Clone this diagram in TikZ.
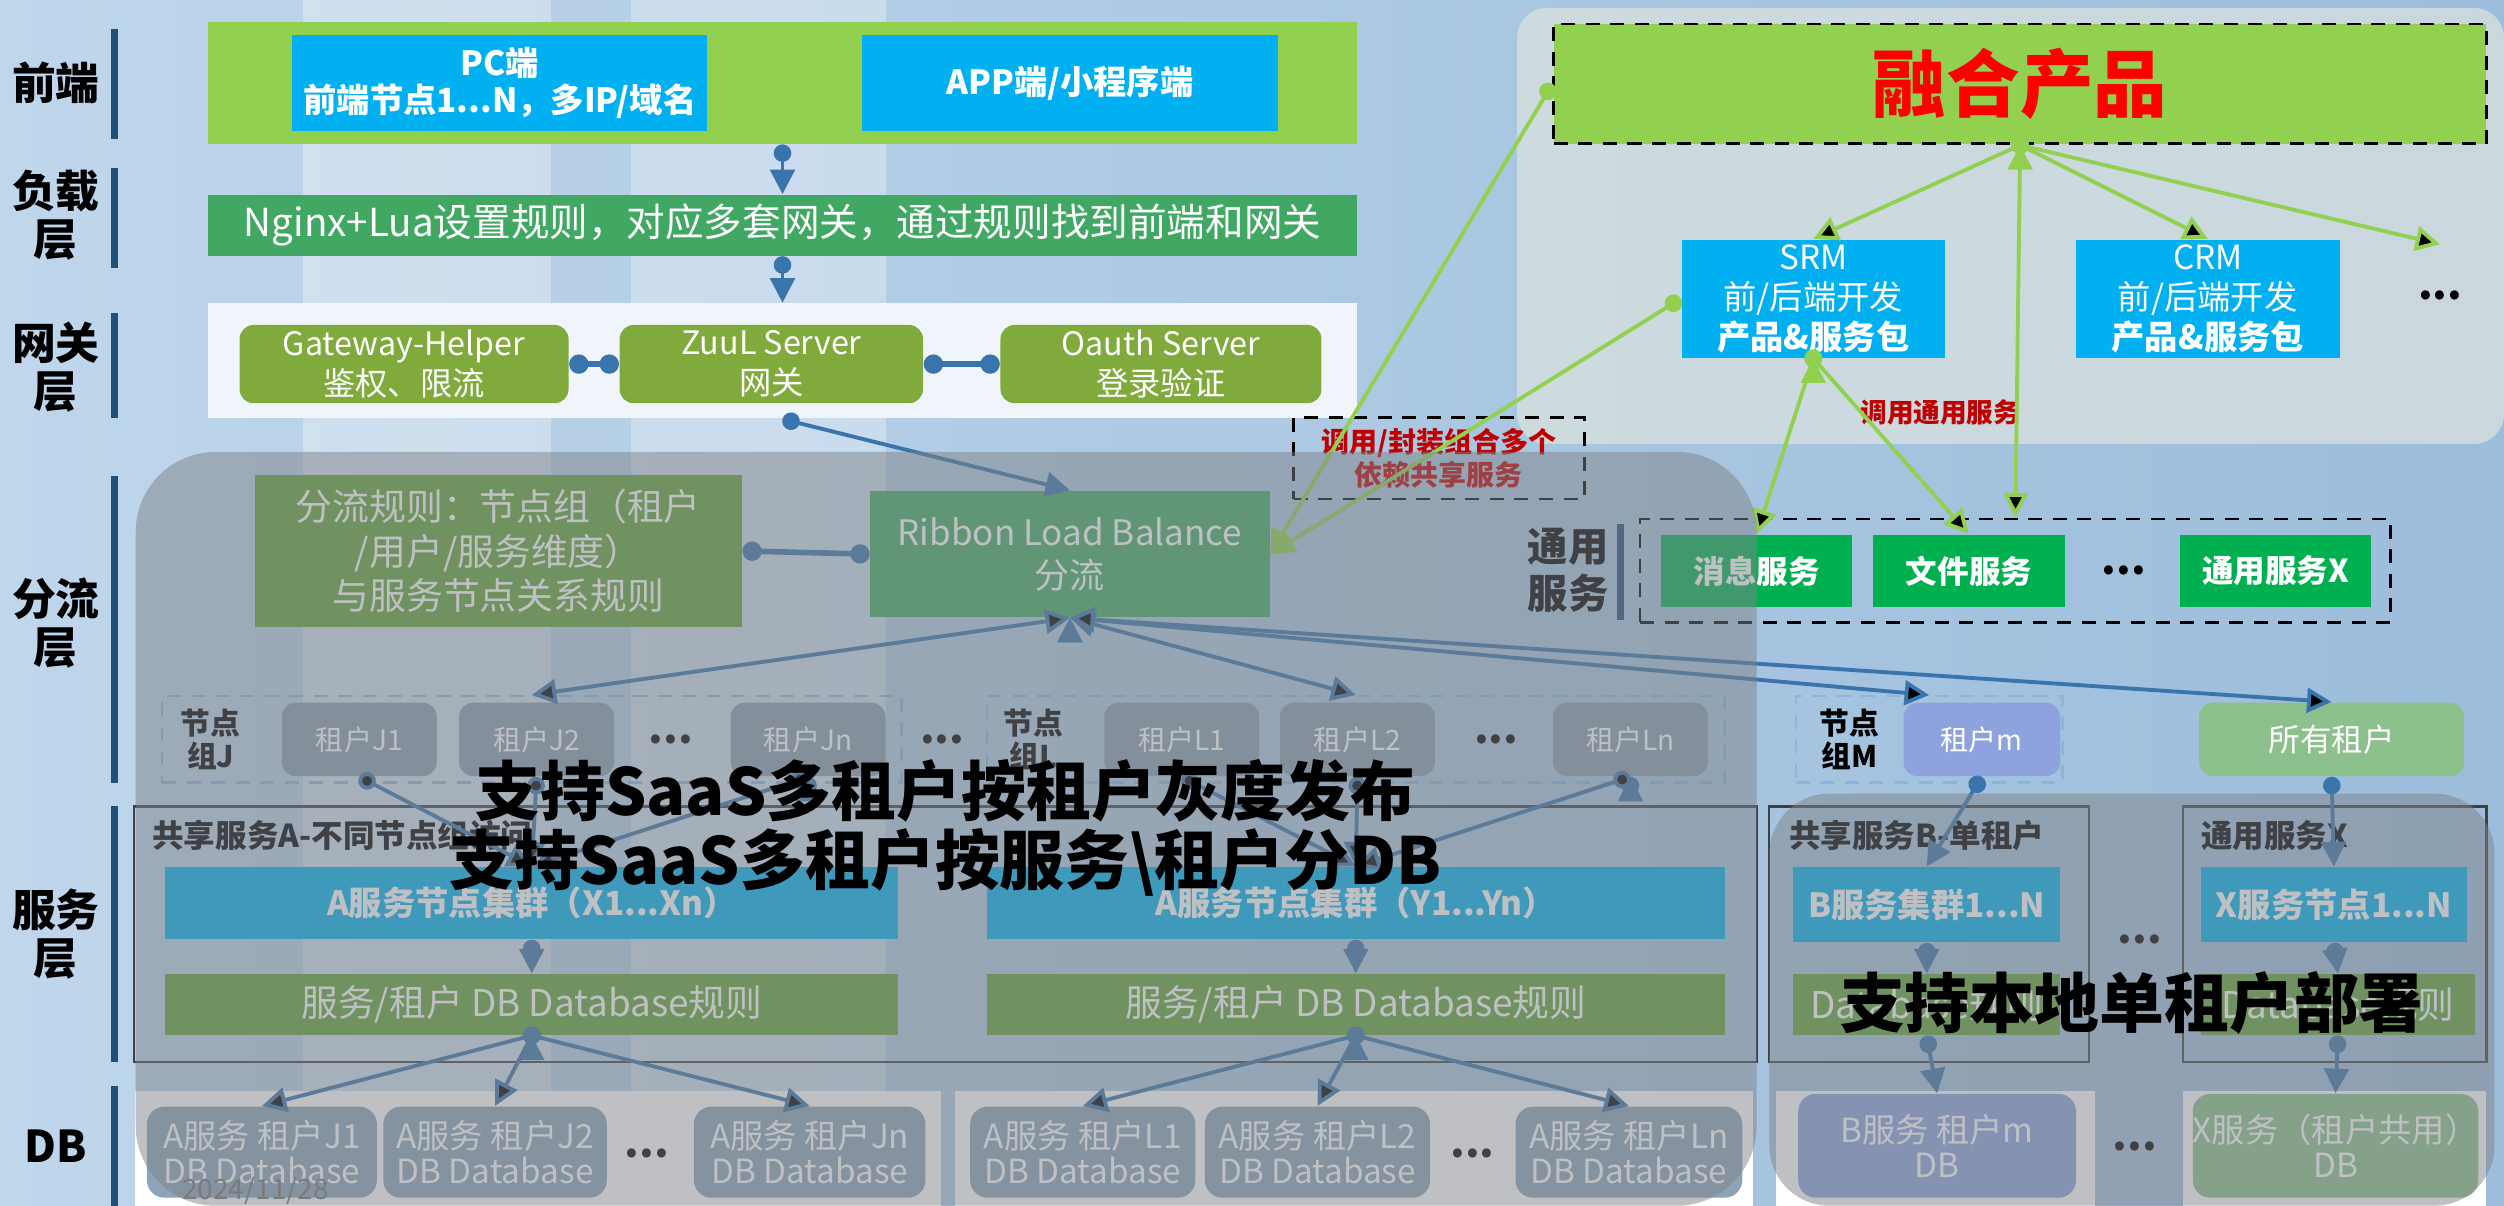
\documentclass[tikz,border=0pt]{standalone}
\usepackage{fontspec}
\setmainfont{Noto Sans CJK SC}
\usetikzlibrary{arrows.meta,positioning}

\newlength\pxu
\setlength\pxu{0.016cm}

\definecolor{bgleft}{HTML}{BFD6EB}
\definecolor{bgmid}{HTML}{DDE8F2}
\definecolor{bgright}{HTML}{9CBDDB}
\definecolor{panelgray}{HTML}{D6DFDE}
\definecolor{lightgreen}{HTML}{92D050}
\definecolor{skyblue}{HTML}{00B0F0}
\definecolor{nginxgreen}{HTML}{41A864}
\definecolor{gatebg}{HTML}{F0F5FB}
\definecolor{olivegreen}{HTML}{80AB3C}
\definecolor{linkblue}{HTML}{3A74AC}
\definecolor{barblue}{HTML}{1F4E79}
\definecolor{rulegreen}{HTML}{62A33A}
\definecolor{tenantgray}{HTML}{8A9DB2}
\definecolor{dbgray}{HTML}{8CA3B8}
\definecolor{svcgreen}{HTML}{00B050}
\definecolor{shadegray}{HTML}{7F8388}
\definecolor{darkred}{HTML}{C00000}
\definecolor{groupdash}{HTML}{8FB4D9}
\definecolor{tenantm}{HTML}{8EA3DE}
\definecolor{alltenant}{HTML}{8CC08C}

\begin{document}
\begin{tikzpicture}[x=0.016cm, y=-0.016cm]
		\tikzset{
  layer/.style={align=center, inner sep=0, font=\fontsize{12.5}{13.7}\selectfont\bfseries},
  layerbar/.style={draw=barblue, line width=2pt},
  dims/.style 2 args={minimum width=#1\pxu, minimum height=#2\pxu},
  block/.style={rectangle, inner sep=0, align=center, text=white},
  gwbox/.style={block, fill=olivegreen, rounded corners=4pt, dims={#1}{49},
         font=\fontsize{9.2}{11.4}\selectfont},
  group/.style={draw=groupdash, dash pattern=on 4pt off 3pt, line width=.7pt,
         inner sep=0, dims={#1}{54}},
  grouplbl/.style={align=center, inner sep=0, font=\fontsize{8.5}{9.6}\selectfont\bfseries},
  tenant/.style={block, fill=tenantgray, rounded corners=4pt, dims={97}{46},
         font=\fontsize{8}{9}\selectfont},
  dotsep/.style={inner sep=0, font=\fontsize{12}{12}\selectfont\bfseries},
  outline/.style={draw=black!75, line width=.6pt, inner sep=0},
  svclbl/.style={inner sep=0, anchor=west, font=\fontsize{9}{10}\selectfont\bfseries},
  cluster/.style={block, fill=skyblue, dims={#1}{45}, font=\fontsize{9.5}{11}\selectfont\bfseries},
  rulebox/.style={block, fill=rulegreen, dims={#1}{38}, font=\fontsize{10.5}{12}\selectfont},
  dbpanel/.style={fill=white, inner sep=0, dims={#1}{72}},
  dbbox/.style={block, fill=dbgray, rounded corners=5pt, dims={#1}{57},
         font=\fontsize{9.5}{10}\selectfont},
  product/.style={block, fill=skyblue, dims={165}{74}, font=\fontsize{9.5}{11.4}\selectfont},
  common/.style={block, fill=svcgreen, dims={120}{45}, font=\fontsize{9}{10}\selectfont\bfseries},
  blackdash/.style={draw=black, dash pattern=on 4pt off 3pt, line width=.8pt, inner sep=0},
  bigtext/.style={inner sep=0, font=\fontsize{18.5}{20}\selectfont\bfseries},
  dotlink/.style={draw=linkblue, line width=1.1pt,
         {Circle[length=5pt]}-{Triangle[length=7pt,width=7pt]}},
  fanlink/.style={draw=linkblue, line width=1.1pt, -{Triangle[length=7pt,width=7pt]}},
  dotdot/.style={draw=linkblue, line width=1.6pt,
         {Circle[length=5.5pt]}-{Circle[length=5.5pt]}},
  bilink/.style={draw=linkblue, line width=1.1pt,
         {Triangle[length=7pt,width=7pt]}-{Triangle[length=7pt,width=7pt]}},
  greenlink/.style={draw=lightgreen, line width=1.1pt,
         {Circle[length=5pt]}-{Triangle[length=7pt,width=7pt]}},
  greenfan/.style={draw=lightgreen, line width=1.1pt, -{Triangle[length=7pt,width=7pt]}},
}
\useasboundingbox (0,0) rectangle (1568,755);

    % background
    \shade[left color=bgleft, middle color=bgmid, right color=bgright] (0,0) rectangle (1568,755);
    \fill[white, opacity=.3] (190,0) rectangle (345,755);
    \fill[white, opacity=.3] (395,0) rectangle (555,755);
    \fill[panelgray, opacity=.8, rounded corners=.3cm] (950,5) rectangle (1568,278);

    % layer labels
    \node[layer] (lfront) at (35,52) {前端};
    \node[layer] (lload) at (35,135) {负载\\层};
    \node[layer] (lgate) at (35,230) {网关\\层};
    \node[layer] (lshunt) at (35,390) {分流\\层};
    \node[layer] (lsvc) at (35,585) {服务\\层};
    \node[layer] (ldb) at (35,718) {DB};
    \draw[layerbar] (72,18) -- (72,87);
    \draw[layerbar] (72,105) -- (72,168);
    \draw[layerbar] (72,196) -- (72,262);
    \draw[layerbar] (72,298) -- (72,490);
    \draw[layerbar] (72,505) -- (72,665);
    \draw[layerbar] (72,680) -- (72,755);

    % front end, load, gateway
    \node[block, fill=lightgreen, dims={720}{76}] (front) at (490,52) {};
    \node[block, fill=skyblue, dims={260}{60},
      font=\fontsize{9.5}{10.5}\selectfont\bfseries] (pc) at (313,52)
      {PC端\\前端节点1...N，多IP/域名};
    \node[block, fill=skyblue, dims={260}{60},
      font=\fontsize{9.5}{10.5}\selectfont\bfseries] (app) at (670,52)
      {APP端/小程序端};
    \node[block, fill=nginxgreen, dims={720}{38},
      font=\fontsize{11}{13}\selectfont] (nginx) at (490,141)
      {Nginx+Lua设置规则，对应多套网关，通过规则找到前端和网关};
    \node[block, fill=gatebg, dims={720}{72}] (gwband) at (490,226) {};
    \node[gwbox=206] (helper) at (253,228) {Gateway-Helper\\鉴权、限流};
    \node[gwbox=190] (zuul) at (483,228) {ZuuL Server\\网关};
    \node[gwbox=201] (oauth) at (727,228) {Oauth Server\\登录验证};

    % shunt layer
    \node[block, fill=rulegreen, dims={305}{95},
      font=\fontsize{10.5}{12.7}\selectfont] (shuntrule) at (312,345)
      {分流规则：节点组（租户\\/用户/服务维度）\\与服务节点关系规则};
    \node[block, fill=nginxgreen, dims={250}{79},
      font=\fontsize{10}{12.3}\selectfont] (ribbon) at (670,347)
      {Ribbon Load Balance\\分流};
    \node[blackdash, dims={182}{51}, align=center, text=darkred,
      font=\fontsize{8}{9.6}\selectfont\bfseries] (callout) at (901,287)
      {调用/封装组合多个\\依赖共享服务};

    % node groups
    \node[group=463] (grpJ) at (333,463) {};
    \node[grouplbl] (grpJlbl) at (132,463) {节点\\组J};
    \node[tenant] (tJ1) at (225,463) {租户J1};
    \node[tenant, right of=tJ1, node distance=111\pxu, anchor=center] (tJ2) {租户J2};
    \node[dotsep, right of=tJ2, node distance=84\pxu, anchor=center] (tJdots) {...};
    \node[tenant, right of=tJdots, node distance=86\pxu, anchor=center] (tJn) {租户Jn};
    \node[dotsep] (grpdots) at (590,463) {...};

    \node[group=462] (grpL) at (849,463) {};
    \node[grouplbl] (grpLlbl) at (647,463) {节点\\组L};
    \node[tenant] (tL1) at (740,463) {租户L1};
    \node[tenant, right of=tL1, node distance=110\pxu, anchor=center] (tL2) {租户L2};
    \node[dotsep, right of=tL2, node distance=87\pxu, anchor=center] (tLdots) {...};
    \node[tenant, right of=tLdots, node distance=84\pxu, anchor=center] (tLn) {租户Ln};

    \node[group=167] (grpM) at (1208,463) {};
    \node[grouplbl] (grpMlbl) at (1158,463) {节点\\组M};
    \node[tenant, fill=tenantm, dims={98}{46}] (tm) at (1241,463) {租户m};
    \node[tenant, fill=alltenant, dims={166}{46},
      font=\fontsize{9}{10}\selectfont] (alltn) at (1460,463) {所有租户};

    % shared service A
    \node[outline, dims={1016}{160}] (svcA) at (592,585) {};
    \node[svclbl] (svcAlbl) at (95,523) {共享服务A-不同节点组访问};
    \node[cluster=459] (clX) at (333,565.5) {A服务节点集群（X1...Xn）};
    \node[cluster=462] (clY) at (849,565.5) {A服务节点集群（Y1...Yn）};
    \node[rulebox=459] (ruleX) at (333,629) {服务/租户 DB Database规则};
    \node[rulebox=462] (ruleY) at (849,629) {服务/租户 DB Database规则};

    % DB row for A
    \node[dbpanel=505] (panelJ) at (337,719) {};
    \node[dbpanel=500] (panelL) at (848,719) {};
    \node[dbbox=144] (dbJ1) at (164,721.5) {A服务 租户J1\\DB Database};
    \node[dbbox=140] (dbJ2) at (310,721.5) {A服务 租户J2\\DB Database};
    \node[dotsep] (dbJdots) at (405,722) {...};
    \node[dbbox=145] (dbJn) at (507,721.5) {A服务 租户Jn\\DB Database};
    \node[dbbox=141] (dbL1) at (678,721.5) {A服务 租户L1\\DB Database};
    \node[dbbox=141] (dbL2) at (825,721.5) {A服务 租户L2\\DB Database};
    \node[dotsep] (dbLdots) at (922,722) {...};
    \node[dbbox=142] (dbLn) at (1020,721.5) {A服务 租户Ln\\DB Database};
    \node[inner sep=0, text=black!55, font=\fontsize{8}{9}\selectfont] (date) at (160,746) {2024/11/28};

    % shared service B and common service X
    \node[outline, dims={200}{160}] (svcB) at (1208,585) {};
    \node[svclbl] (svcBlbl) at (1120,523) {共享服务B-单租户};
    \node[cluster=167, dims={167}{47}] (clB) at (1206.5,566.5) {B服务集群1...N};
    \node[rulebox=167] (ruleB) at (1206.5,629) {Database规则};
    \node[dbpanel=200] (panelB) at (1212,719) {};
    \node[dbbox=174, fill=tenantm, dims={174}{65}] (dbB) at (1213,717.5) {B服务 租户m\\DB};
    \node[dotsep] (svcdots) at (1340,588) {...};
    \node[dotsep] (dbdots) at (1337,718) {...};

    \node[outline, dims={190}{160}] (svcX) at (1462,585) {};
    \node[svclbl] (svcXlbl) at (1378,523) {通用服务X};
    \node[cluster=167, dims={167}{47}] (clX2) at (1461.5,566.5) {X服务节点1...N};
    \node[rulebox=172] (ruleX2) at (1464,629) {Database规则};
    \node[dbpanel=190] (panelX) at (1462,719) {};
    \node[dbbox=169, fill=alltenant, dims={169}{65}] (dbX) at (1462.5,717.5) {X服务（租户共用）\\DB};

    % fused products
    \node[blackdash, fill=lightgreen, dims={584}{75}, text=red,
      font=\fontsize{21}{24}\selectfont\bfseries] (fusion) at (1265,52.5) {融合产品};
    \node[product] (srm) at (1135.5,187) {SRM\\前/后端开发\\\textbf{产品\&服务包}};
    \node[product] (crm) at (1382.5,187) {CRM\\前/后端开发\\\textbf{产品\&服务包}};
    \node[dotsep] (crmdots) at (1528,185) {...};
    \coordinate (moreend) at (1528,153);
    \node[inner sep=0, text=darkred, font=\fontsize{7.6}{9}\selectfont\bfseries] (calllbl) at (1215,258) {调用通用服务};

    % common services
    \node[layer, font=\fontsize{11.5}{13.2}\selectfont\bfseries] (genlbl) at (982,357) {通用\\服务};
    \draw[layerbar] (1015,328) -- (1015,388);
    \node[blackdash, dims={470}{65}] (gen) at (1262,357.5) {};
    \node[common] (msg) at (1100,357.5) {消息服务};
    \node[common] (file) at (1233,357.5) {文件服务};
    \node[dotsep] (gendots) at (1330,357) {...};
    \node[common] (genx) at (1425,357.5) {通用服务X};

    % connectors
    \draw[dotlink] (front.south) -- (nginx.north);
    \draw[dotlink] (nginx.south) -- (gwband.north);
    \draw[dotdot] (helper.east) -- (zuul.west);
    \draw[dotdot] (zuul.east) -- (oauth.west);
    \draw[dotlink] (gwband.south) -- (ribbon.north);
    \draw[dotdot] (shuntrule.east) -- (ribbon.west);

    \path[bilink] (ribbon.south) edge (grpJ.north)
      edge (grpL.north)
      edge (grpM.north)
      edge (alltn.north);

    \path[dotlink] (tJ1.south) edge (clX.north)
      (tJ2.south) edge (clX.north)
      (tJn.south) edge (clX.north);
    \path[dotlink] (tL1.south) edge (clY.north)
      (tL2.south) edge (clY.north)
      (tLn.south) edge (clY.north);
    \draw[dotlink] (clX.south) -- (ruleX.north);
    \draw[dotlink] (clY.south) -- (ruleY.north);
    \path[fanlink] (ruleX.south) edge (dbJ1.north) edge (dbJ2.north) edge (dbJn.north);
    \path[fanlink] (ruleY.south) edge (dbL1.north) edge (dbL2.north) edge (dbLn.north);
    \fill[linkblue] (ruleX.south) circle (2.6pt);
    \fill[linkblue] (ruleY.south) circle (2.6pt);

    \draw[dotlink] (tm.south) -- (clB.north);
    \draw[dotlink] (clB.south) -- (ruleB.north);
    \draw[dotlink] (ruleB.south) -- (dbB.north);
    \draw[dotlink] (alltn.south) -- (clX2.north);
    \draw[dotlink] (clX2.south) -- (ruleX2.north);
    \draw[dotlink] (ruleX2.south) -- (dbX.north);

    \draw[greenlink] (fusion.west) -- (ribbon.east);
    \draw[greenlink] (srm.west) -- (ribbon.east);
    \path[greenfan] (fusion.south) edge (srm.north)
      edge (crm.north)
      edge (moreend)
      edge (gen.north);
    \path[greenfan] (srm.south) edge (msg.north) edge (file.north);
    \fill[lightgreen] (fusion.south) circle (2.6pt);
    \fill[lightgreen] (srm.south) circle (2.6pt);

    % grey cover over the SaaS part and the local part
    \fill[shadegray, opacity=.5, rounded corners=.8cm] (85,283) rectangle (1100,755);
    \fill[shadegray, opacity=.5, rounded corners=.6cm] (1108,497) rectangle (1562,755);

    % captions
    \node[bigtext] (saas1) at (592,495) {支持SaaS多租户按租户灰度发布};
    \node[bigtext] (saas2) at (592,540) {支持SaaS多租户按服务\textbackslash 租户分DB};
    \node[bigtext] (local) at (1335,628) {支持本地单租户部署};

	\end{tikzpicture}
\end{document}
